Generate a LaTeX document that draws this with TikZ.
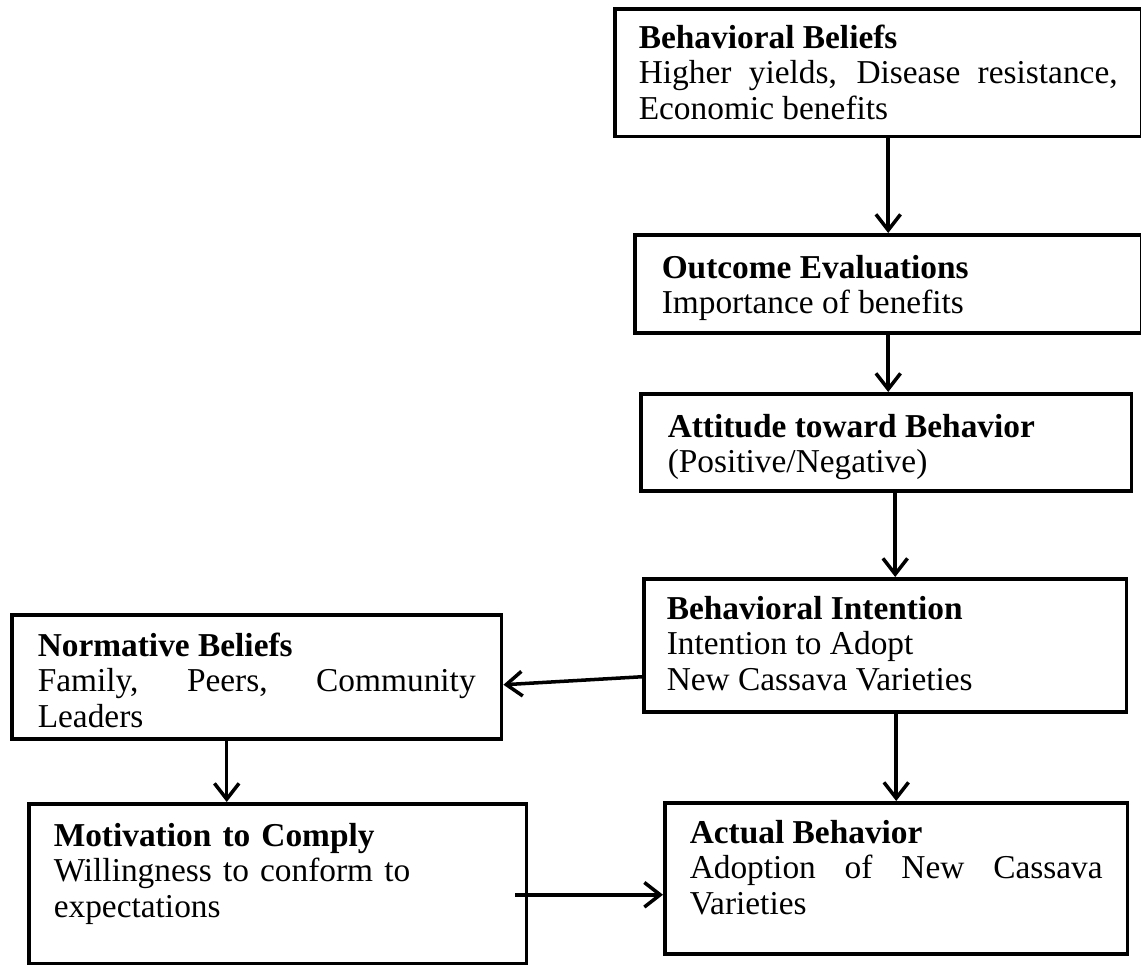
\documentclass[tikz,border=0pt]{standalone}
\usepackage{fontspec}
\setmainfont{Liberation Serif}
\usetikzlibrary{arrows.meta}
\hyphenpenalty=10000
\exhyphenpenalty=10000

\begin{document}
\begin{tikzpicture}[x=0.02cm, y=-0.02cm,
        tpbox/.style={draw, rectangle, line width=2pt, anchor=north west, inner ysep=0pt, align=justify, font=\fontsize{19pt}{20pt}\selectfont},
        arr/.style={line width=2pt, -{Straight Barb[length=9pt,width=14pt]}}]
        \useasboundingbox (0,0) rectangle (1141,964);

        \node (bb) [tpbox, inner xsep=0.48cm, text width=9.58cm, text height=0.8cm, text depth=1.76cm] at (613,7) {\textbf{Behavioral Beliefs}\\Higher yields, Disease resistance, Economic benefits};
        \node (oe) [tpbox, inner xsep=0.54cm, text width=9.06cm, text height=0.88cm, text depth=1.08cm] at (633,233) {\textbf{Outcome Evaluations}\\Importance of benefits};
        \node (att) [tpbox, inner xsep=0.54cm, text width=8.74cm, text height=0.88cm, text depth=1.06cm] at (639,392) {\textbf{Attitude toward Behavior}\\(Positive/Negative)};
        \node (bi) [tpbox, inner xsep=0.46cm, text width=8.74cm, text height=0.82cm, text depth=1.84cm] at (642,577) {\textbf{Behavioral Intention}\\Intention to Adopt\\New Cassava Varieties};
        \node (nb) [tpbox, inner xsep=0.52cm, text width=8.76cm, text height=0.84cm, text depth=1.64cm] at (10,613) {\textbf{Normative Beliefs}\\Family, Peers, Community Leaders};
        \node (mc) [tpbox, align=left, inner xsep=0.5cm, text width=8.96cm, text height=0.86cm, text depth=2.34cm] at (27,802) {\textbf{Motivation to Comply}\\Willingness to conform to expectations};
        \node (ab) [tpbox, inner xsep=0.5cm, text width=8.26cm, text height=0.82cm, text depth=2.2cm] at (663,801) {\textbf{Actual Behavior}\\Adoption of New Cassava Varieties};

        \coordinate (mcout) at ([xshift=-.26cm,yshift=-.22cm]mc.east);

        \draw[arr] (bb.south -| oe.north) -- (oe.north);
        \draw[arr] (oe.south) -- (oe.south |- att.north);
        \draw[arr] ([xshift=.18cm]att.south) -- ([xshift=.18cm]att.south |- bi.north);
        \draw[arr] ([yshift=-.63cm]bi.west) -- ([yshift=-.16cm]nb.east);
        \draw[arr] ([xshift=-.6cm]nb.south) -- ([xshift=-.6cm]nb.south |- mc.north);
        \draw[arr] (bi.south -| ab.north) -- (ab.north);
        \draw[arr] (mcout) -- (mcout -| ab.west);
    \end{tikzpicture}
\end{document}
